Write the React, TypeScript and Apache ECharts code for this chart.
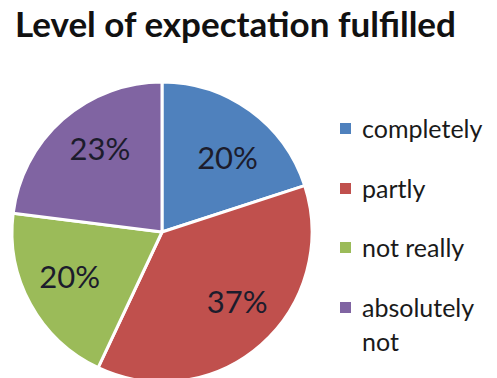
import React, { useEffect, useRef } from "react";
import * as echarts from "echarts";

const titleText = "Level of expectation fulfilled";
const categories = ["completely", "partly", "not really", "absolutely\nnot"];
const values = [20, 37, 20, 23];
const colors = ["#4F81BD", "#C0504D", "#9BBB59", "#8064A2"];

// small label nudges (style only) to mimic the spreadsheet's best-fit placement
const labelNudges: [number, number][] = [[5, 8], [7, -8], [-2, -6], [6, -7]];

export default function App() {
  const ref = useRef<HTMLDivElement>(null);
  useEffect(() => {
    if (!ref.current) return;
    const chart = echarts.init(ref.current, undefined, { renderer: "svg" });
    const data = categories.map((c, i) => ({ name: c, value: values[i], itemStyle: { color: colors[i] } }));
    const legendY = [128, 188, 247, 307];
    const legendGraphics: any[] = [];
    categories.forEach((c, i) => {
      legendGraphics.push({
        type: "rect",
        shape: { x: 340, y: legendY[i] - 5, width: 11, height: 11 },
        style: { fill: colors[i] },
      });
      const multi = c.includes("\n");
      legendGraphics.push({
        type: "text",
        x: 362,
        y: multi ? legendY[i] - 17 : legendY[i],
        style: {
          text: c,
          fill: "#1a1a1a",
          font: "25px Lato",
          verticalAlign: multi ? "top" : "middle",
          lineHeight: 34,
        },
      });
    });
    chart.setOption({
      animation: false,
      title: {
        text: titleText,
        left: 10,
        top: 0,
        textStyle: { fontFamily: "Lato", fontWeight: "bold", fontSize: 35, color: "#111" },
      },
      graphic: legendGraphics,
      series: [
        {
          type: "pie",
          center: [162, 232],
          radius: [0, 150],
          startAngle: 90,
          clockwise: true,
          data,
          label: { show: false },
          labelLine: { show: false },
          itemStyle: { borderColor: "#fff", borderWidth: 3 },
          emphasis: { disabled: true },
          silent: true,
        },
        {
          type: "pie",
          center: [162, 232],
          radius: [70, 130],
          startAngle: 90,
          clockwise: true,
          data: categories.map((c, i) => ({
            name: c,
            value: values[i],
            label: { offset: labelNudges[i] },
          })),
          itemStyle: { color: "rgba(0,0,0,0)", borderWidth: 0 },
          label: {
            show: true,
            position: "inside",
            formatter: (p: any) => p.value + "%",
            fontFamily: "Lato",
            fontWeight: "normal",
            fontSize: 31,
            color: "#1c1c2c",
          },
          labelLine: { show: false },
          emphasis: { disabled: true },
          silent: true,
        },
      ],
    });
    return () => chart.dispose();
  }, []);
  return <div ref={ref} style={{ position: "fixed", left: 0, top: 0, width: 497, height: 378, background: "#fff" }} />;
}
